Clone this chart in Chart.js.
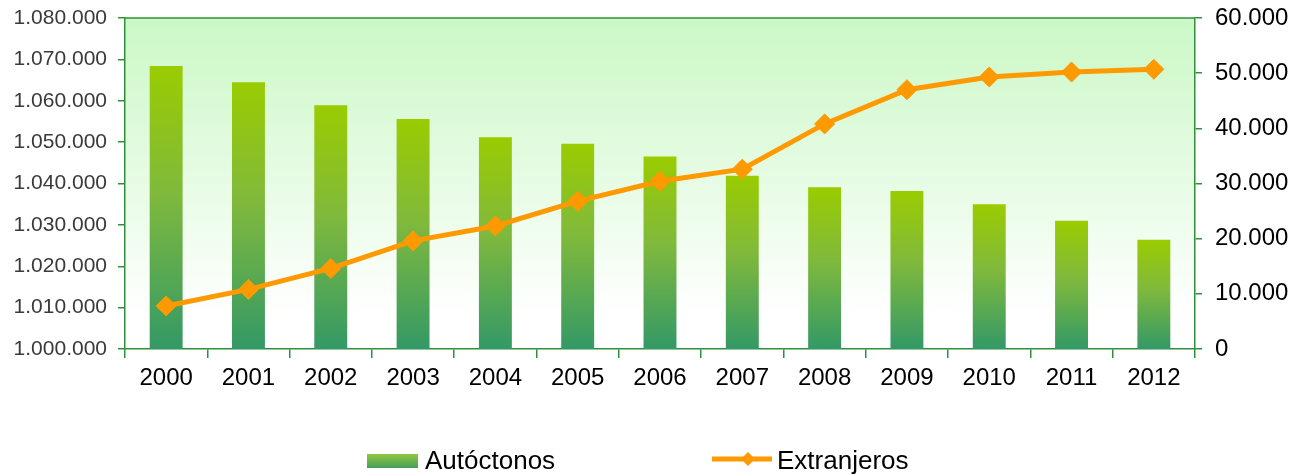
<!DOCTYPE html>
<html>
<head>
<meta charset="utf-8">
<script src="https://cdn.jsdelivr.net/npm/chart.js@4"></script>
<style>
  html, body { margin: 0; padding: 0; background: #fff; }
  #wrap { width: 1298px; height: 475px; }
</style>
</head>
<body>
<div id="wrap"><canvas id="chart" width="1298" height="475"></canvas></div>
<script>
// data
const years = ['2000', '2001', '2002', '2003', '2004', '2005', '2006', '2007', '2008', '2009', '2010', '2011', '2012'];
const autoctonos = [1068400, 1064500, 1058900, 1055600, 1051200, 1049600, 1046500, 1041900, 1039100, 1038200, 1035000, 1031000, 1026400];
const extranjeros = [7800, 10800, 14600, 19600, 22300, 26800, 30400, 32600, 40800, 47000, 49300, 50200, 50700];
const leftTicks = [1000000, 1080000, 10000];   // min, max, step
const rightTicks = [0, 60000, 10000];

const FONT = '"Liberation Sans", Arial, sans-serif';
const AXIS_GREEN = '#2f8f3a';

function fmt(v) {
  return String(v).replace(/\B(?=(\d{3})+(?!\d))/g, '.');
}

// vertical gradient per bar, from its own top down to the axis
function barFill(ctx) {
  const chart = ctx.chart;
  const area = chart.chartArea;
  if (!area || ctx.raw === undefined) return '#7ab648';
  const top = chart.scales.y.getPixelForValue(ctx.raw);
  const g = chart.ctx.createLinearGradient(0, top, 0, area.bottom);
  g.addColorStop(0, '#9acc00');
  g.addColorStop(0.45, '#80b93c');
  g.addColorStop(1, '#339966');
  return g;
}

// light green plot background + top border
const plotBg = {
  id: 'plotBg',
  beforeDraw(chart) {
    const { ctx, chartArea: a } = chart;
    ctx.save();
    const g = ctx.createLinearGradient(0, a.top, 0, a.bottom);
    g.addColorStop(0, '#cbf8c6');
    g.addColorStop(0.55, '#eafce8');
    g.addColorStop(0.9, '#ffffff');
    ctx.fillStyle = g;
    ctx.fillRect(a.left, a.top, a.right - a.left, a.bottom - a.top);
    ctx.strokeStyle = AXIS_GREEN;
    ctx.lineWidth = 1.5;
    ctx.beginPath();
    ctx.moveTo(a.left, a.top);
    ctx.lineTo(a.right, a.top);
    ctx.stroke();
    ctx.restore();
  }
};

// legend drawn by hand so the spacing matches
const bottomLegend = {
  id: 'bottomLegend',
  afterDraw(chart) {
    const ctx = chart.ctx;
    const cy = 462;
    ctx.save();
    // Autóctonos box
    const g = ctx.createLinearGradient(0, cy - 7, 0, cy + 7);
    g.addColorStop(0, '#8cc63f');
    g.addColorStop(1, '#3f9a5f');
    ctx.fillStyle = g;
    ctx.fillRect(367, cy - 8, 51, 14);
    ctx.font = '26px ' + FONT;
    ctx.fillStyle = '#000';
    ctx.textBaseline = 'middle';
    ctx.textAlign = 'left';
    ctx.fillText(chart.data.datasets[0].label, 425, cy);
    // Extranjeros line + diamond
    ctx.strokeStyle = '#ff9900';
    ctx.lineWidth = 5;
    ctx.beginPath();
    ctx.moveTo(712, cy - 3);
    ctx.lineTo(772, cy - 3);
    ctx.stroke();
    ctx.fillStyle = '#ff9900';
    ctx.beginPath();
    ctx.moveTo(748, cy - 10);
    ctx.lineTo(755, cy - 3);
    ctx.lineTo(748, cy + 4);
    ctx.lineTo(741, cy - 3);
    ctx.closePath();
    ctx.fill();
    ctx.fillStyle = '#000';
    ctx.fillText(chart.data.datasets[1].label, 777, cy);
    ctx.restore();
  }
};

new Chart(document.getElementById('chart'), {
  data: {
    labels: years,
    datasets: [
      {
        type: 'bar',
        label: 'Autóctonos',
        data: autoctonos,
        yAxisID: 'y',
        backgroundColor: barFill,
        barPercentage: 0.4,
        categoryPercentage: 1,
        order: 2,
      },
      {
        type: 'line',
        label: 'Extranjeros',
        data: extranjeros,
        yAxisID: 'y1',
        borderColor: '#ff9900',
        borderWidth: 5,
        backgroundColor: '#ff9900',
        pointStyle: 'rectRot',
        pointRadius: 10,
        pointBackgroundColor: '#ff9900',
        pointBorderColor: '#ff9900',
        pointBorderWidth: 1,
        tension: 0,
        order: 1,
      },
    ],
  },
  options: {
    responsive: false,
    animation: false,
    devicePixelRatio: 1,
    layout: { padding: { top: 18, left: 0, right: 0, bottom: 0 } },
    plugins: {
      legend: { display: false },
      tooltip: { enabled: false },
    },
    scales: {
      x: {
        offset: true,
        grid: { offset: true, drawOnChartArea: false, color: AXIS_GREEN, tickLength: 9, lineWidth: 1.5 },
        border: { color: AXIS_GREEN, width: 1.5 },
        ticks: { color: '#000', font: { family: FONT, size: 24 }, padding: 6, maxRotation: 0 },
        afterFit(scale) { scale.height = 126; },
      },
      y: {
        position: 'left',
        min: leftTicks[0],
        max: leftTicks[1],
        grid: { drawOnChartArea: false, color: AXIS_GREEN, tickLength: 7, lineWidth: 1.5 },
        border: { color: AXIS_GREEN, width: 1.5 },
        ticks: {
          stepSize: leftTicks[2],
          color: '#3a3a3a',
          font: { family: FONT, size: 21 },
          padding: 11,
          callback: (v) => fmt(v),
        },
        afterFit(scale) {
          scale.width = 125;
          scale.paddingTop = 0;
          scale.paddingBottom = 0;
        },
      },
      y1: {
        position: 'right',
        min: rightTicks[0],
        max: rightTicks[1],
        grid: { drawOnChartArea: false, color: AXIS_GREEN, tickLength: 7, lineWidth: 1.5 },
        border: { color: AXIS_GREEN, width: 1.5 },
        ticks: {
          stepSize: rightTicks[2],
          color: '#000',
          font: { family: FONT, size: 24 },
          padding: 13,
          callback: (v) => fmt(v),
        },
        afterFit(scale) {
          scale.width = 103;
          scale.paddingTop = 0;
          scale.paddingBottom = 0;
        },
      },
    },
  },
  plugins: [plotBg, bottomLegend],
});
</script>
</body>
</html>
